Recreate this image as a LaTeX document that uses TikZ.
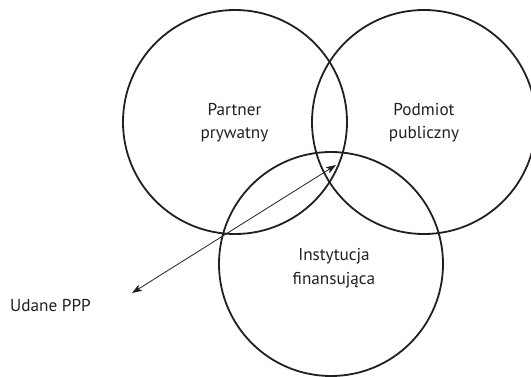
\documentclass[tikz,border=0pt]{standalone}
\usepackage{fontspec}
\setmainfont{PT Sans}
\usetikzlibrary{arrows.meta}
\definecolor{ink}{HTML}{231F20}
\begin{document}
\begin{tikzpicture}[x=1pt,y=-1pt,
  ring/.style={draw=ink,line width=1.8pt},
  lbl/.style={font=\fontsize{17.2}{23.5}\selectfont,text=ink,align=center,inner sep=0pt},
  link/.style={draw=ink,line width=0.8pt,{Stealth[length=10pt,width=7pt,inset=2.5pt]}-{Stealth[length=10pt,width=7pt,inset=2.5pt]}}]
\clip (0,0) rectangle (531,377);
\path[ring] (235,122) circle[radius=112];
\path[ring] (424,122) circle[radius=112];
\path[ring] (331,264) circle[radius=112];
\node[lbl] (pp) at (234.5,122.5) {Partner\\prywatny};
\node[lbl] (pub) at (424,122.5) {Podmiot\\publiczny};
\node[lbl] (fin) at (334,268) {Instytucja\\finansująca};
\node[lbl,anchor=base west] (ppp) at (10,312) {Udane PPP};
\coordinate (a1) at (132,293);
\coordinate (a2) at (336,165);
\draw[link] (a1) -- (a2);
\end{tikzpicture}
\end{document}
